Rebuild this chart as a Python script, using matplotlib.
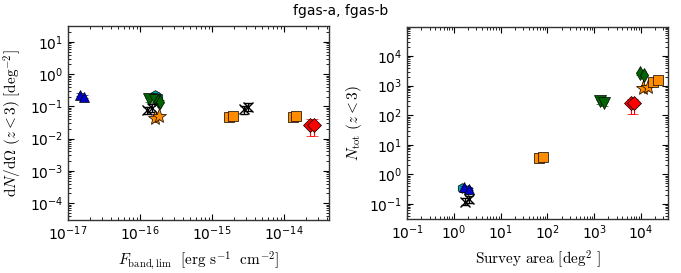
import matplotlib
matplotlib.use("Agg")
import matplotlib.pyplot as plt
import numpy as np

plt.rcParams['mathtext.fontset'] = 'cm'
plt.rcParams['font.family'] = ['DejaVu Sans']

# survey groups, each plotted for fgas-a and fgas-b (two points)
markers = ['h', '^', 'v', 'd', 'x', 'x', '*', 's', 's', 'D']
colors = ['#00a8a8', '#0000c8', '#006400', '#006400', 'k', 'k',
          '#ff8c00', '#ff8c00', '#ff8c00', '#ff0000']

# left panel: limiting band flux vs dN/dOmega
flux = [[1.6e-16, 1.8e-16], [1.45e-17, 1.66e-17], [1.33e-16, 1.6e-16],
        [1.75e-16, 1.9e-16], [1.25e-16, 1.45e-16], [2.8e-15, 3.2e-15],
        [1.64e-16, 1.83e-16], [1.7e-15, 1.94e-15], [1.32e-14, 1.48e-14],
        [2.3e-14, 2.6e-14]]
dndo = [[0.22, 0.20], [0.23, 0.20], [0.17, 0.16], [0.15, 0.14],
        [0.075, 0.09], [0.08, 0.098], [0.045, 0.05], [0.047, 0.05],
        [0.047, 0.05], [0.027, 0.027]]

# right panel: survey area vs number of objects
area = [[1.5, 2.0], [1.6, 2.1], [1350, 1650], [9500, 11500],
        [1.75, 2.05], None, [11000, 14000], [65, 79], [18000, 23000],
        [6000, 7200]]
ntot = [[0.35, 0.30], [0.38, 0.32], [300, 260], [2600, 2300],
        [0.12, 0.145], None, [815, 910], [3.6, 4.0], [1350, 1550],
        [250, 250]]

# fractional errors (lower, upper) for each group
err_lo = [0.1, 0.1, 0.2, 0.1, 0.25, 0.25, 0.25, 0.25, 0.2, 0.55]
err_hi = [0.1, 0.1, 0.1, 0.1, 0.3, 0.3, 0.2, 0.15, 0.15, 0.45]
msizes = [7, 7, 8, 7, 7, 7, 11, 7, 7, 7]

fig = plt.figure(figsize=(6.81, 2.73), dpi=100)
ax1 = fig.add_axes([0.0999, 0.194, 0.383, 0.711])
ax2 = fig.add_axes([0.598, 0.198, 0.383, 0.703])
fig.suptitle("fgas-a, fgas-b", fontsize=10, y=0.985)


def draw(ax, xs, ys):
    for i in range(len(markers)):
        if xs[i] is None:
            continue
        x = np.array(xs[i])
        y = np.array(ys[i])
        yerr = [y * err_lo[i], y * err_hi[i]]
        is_x = markers[i] == 'x'
        ax.errorbar(x, y, yerr=yerr, fmt=markers[i], color=colors[i],
                    ms=msizes[i], mec=colors[i] if is_x else 'k',
                    mew=1.0 if is_x else 0.5,
                    ecolor=colors[i], elinewidth=0.8, capsize=3,
                    capthick=0.8, ls='none', zorder=2 + i * 0.1)


draw(ax1, flux, dndo)
draw(ax2, area, ntot)

for ax in (ax1, ax2):
    ax.set_xscale('log')
    ax.set_yscale('log')
    ax.tick_params(which='both', direction='in', top=True, right=True,
                   labelsize=10)
    ax.tick_params(which='major', length=4)
    ax.tick_params(which='minor', length=2)
    for s in ax.spines.values():
        s.set_linewidth(1.0)
        s.set_color('#333333')

ax1.set_xlim(1e-17, 4.2e-14)
ax1.set_ylim(3e-5, 31)
ax1.set_xticks([1e-17, 1e-16, 1e-15, 1e-14])
ax1.set_yticks([1e-4, 1e-3, 1e-2, 1e-1, 1, 10])
ax1.set_xlabel(r'$F_{\rm band,lim}\ \ \mathrm{[erg\ s^{-1}\ \ cm^{-2}]}$',
               fontsize=11)
ax1.set_ylabel(r'$\mathrm{d}N/\mathrm{d}\Omega\ (z<3)\ [\mathrm{deg}^{-2}]$',
               fontsize=11)

ax2.set_xlim(0.1, 3.8e4)
ax2.set_ylim(0.031, 9.6e4)
ax2.set_xticks([1e-1, 1, 10, 1e2, 1e3, 1e4])
ax2.set_yticks([1e-1, 1, 10, 1e2, 1e3, 1e4])
ax2.set_xlabel(r'$\mathrm{Survey\ area\ [deg^2\ ]}$', fontsize=11)
ax2.set_ylabel(r'$N_{\rm tot}\ (z<3)$', fontsize=11)

fig.savefig('out.png', dpi=100)
